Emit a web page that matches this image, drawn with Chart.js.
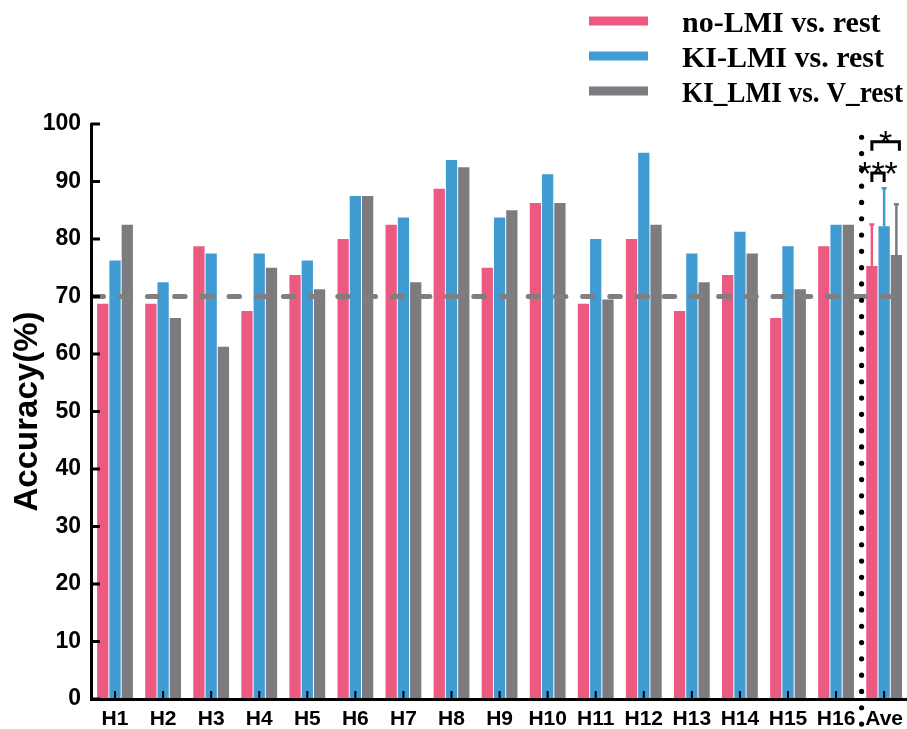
<!DOCTYPE html>
<html>
<head>
<meta charset="utf-8">
<script src="https://cdn.jsdelivr.net/npm/chart.js@4.4.1/dist/chart.umd.min.js"></script>
<style>
  html, body { margin: 0; padding: 0; background: #fff; overflow: hidden; }
  canvas { display: block; }
</style>
</head>
<body>
<canvas id="acc" width="911" height="729" style="width:911px;height:729px"></canvas>
<script>
// Per-subject accuracy (%) for the three classification settings, plus the group average.
const categories = ['H1', 'H2', 'H3', 'H4', 'H5', 'H6', 'H7', 'H8', 'H9', 'H10',
                    'H11', 'H12', 'H13', 'H14', 'H15', 'H16', 'Ave'];
const seriesNames = ['no-LMI vs. rest', 'KI-LMI vs. rest', 'KI_LMI vs. V_rest'];

const noLmiRest = [68.75, 68.75, 78.75, 67.5, 73.75, 80, 82.5, 88.75, 75, 86.25,
                   68.75, 80, 67.5, 73.75, 66.25, 78.75, 75.3];
const kiLmiRest = [76.25, 72.5, 77.5, 77.5, 76.25, 87.5, 83.75, 93.75, 83.75, 91.25,
                   80, 95, 77.5, 81.25, 78.75, 82.5, 82.2];
const kiLmiVRest = [82.5, 66.25, 61.25, 75, 71.25, 87.5, 72.5, 92.5, 85, 86.25,
                    69.5, 82.5, 72.5, 77.5, 71.25, 82.5, 77.2];

// Standard deviation shown on the average bars (one per series).
const aveSpread = [7.4, 6.8, 9.0];

// Reference accuracy level drawn as a dashed line.
const thresholdLevel = 70;

// Y-axis ticks.
const yTicks = [0, 10, 20, 30, 40, 50, 60, 70, 80, 90, 100];

// Significance brackets between series on the average group.
const significance = [
  { from: 0, to: 1, level: 91.5, label: '***' },
  { from: 0, to: 2, level: 96.9, label: '*' }
];

const COLORS = ['#EC5A82', '#419BD3', '#7C7C80'];
const seriesData = [noLmiRest, kiLmiRest, kiLmiVRest];

const decorations = {
  id: 'decorations',
  afterDatasetsDraw(chart) {
    const { ctx, chartArea: a, scales: { y } } = chart;
    const last = categories.length - 1;

    // upper error whiskers on the average bars
    chart.data.datasets.forEach((ds, i) => {
      const bar = chart.getDatasetMeta(i).data[last];
      const top = y.getPixelForValue(ds.data[last] + aveSpread[i]);
      ctx.save();
      ctx.strokeStyle = ds.backgroundColor;
      ctx.lineWidth = 2.5;
      ctx.beginPath();
      ctx.moveTo(bar.x, bar.y);
      ctx.lineTo(bar.x, top);
      ctx.moveTo(bar.x - 2.5, top + 1);
      ctx.lineTo(bar.x + 2.5, top + 1);
      ctx.stroke();
      ctx.restore();
    });

    // dashed reference line
    const ly = y.getPixelForValue(thresholdLevel);
    ctx.save();
    ctx.strokeStyle = '#7F7F82';
    ctx.lineWidth = 5;
    ctx.lineCap = 'round';
    ctx.setLineDash([10.5, 16.7]);
    ctx.beginPath();
    ctx.moveTo(a.left + 2, ly);
    ctx.lineTo(a.right, ly);
    ctx.stroke();
    ctx.restore();
  },
  afterDraw(chart) {
    const { ctx, chartArea: a, scales: { x, y } } = chart;
    const last = categories.length - 1;
    ctx.save();
    ctx.strokeStyle = '#000';
    ctx.fillStyle = '#000';

    // inward ticks on the y axis
    ctx.lineWidth = 3;
    yTicks.forEach(v => {
      const py = y.getPixelForValue(v);
      ctx.beginPath();
      ctx.moveTo(a.left, py);
      ctx.lineTo(a.left + 9, py);
      ctx.stroke();
    });

    // inward ticks on the x axis
    ctx.lineWidth = 2;
    categories.forEach((c, i) => {
      const px = x.getPixelForValue(i);
      ctx.beginPath();
      ctx.moveTo(px, a.bottom);
      ctx.lineTo(px, a.bottom - 8);
      ctx.stroke();
    });

    // dotted separator before the average group
    const sx = (x.getPixelForValue(last - 1) + x.getPixelForValue(last)) / 2 + 1.5;
    for (let py = y.getPixelForValue(97.7); py < a.bottom + 26; py += 16.3) {
      ctx.beginPath();
      ctx.arc(sx, py, 2.6, 0, Math.PI * 2);
      ctx.fill();
    }

    // significance brackets
    ctx.lineWidth = 3;
    ctx.lineJoin = 'miter';
    ctx.textAlign = 'center';
    ctx.textBaseline = 'alphabetic';
    ctx.font = '34px "Liberation Sans", Arial, sans-serif';
    significance.forEach(s => {
      const x1 = chart.getDatasetMeta(s.from).data[last].x;
      const x2 = chart.getDatasetMeta(s.to).data[last].x + (s.to === 2 ? 3 : 0);
      const by = y.getPixelForValue(s.level);
      ctx.beginPath();
      ctx.moveTo(x1, by + 9);
      ctx.lineTo(x1, by);
      ctx.lineTo(x2, by);
      ctx.lineTo(x2, by + 9);
      ctx.stroke();
      ctx.fillText(s.label, (x1 + x2) / 2, by + 12);
    });

    // legend
    ctx.textAlign = 'left';
    ctx.textBaseline = 'middle';
    ctx.font = 'bold 30px "Liberation Serif", "Times New Roman", serif';
    chart.data.datasets.forEach((ds, i) => {
      const cy = 21 + i * 35;
      ctx.fillStyle = ds.backgroundColor;
      ctx.fillRect(589, cy - 4.5, 59, 9);
      ctx.fillStyle = '#000';
      ctx.fillText(ds.label, 682, cy + 3, 221);
    });
    ctx.restore();
  }
};

const tickFont = { family: '"Liberation Sans", Arial, sans-serif', weight: 'bold' };

new Chart(document.getElementById('acc'), {
  type: 'bar',
  data: {
    labels: categories,
    datasets: seriesData.map((d, i) => ({
      label: seriesNames[i],
      data: d,
      backgroundColor: COLORS[i],
      borderWidth: 0
    }))
  },
  options: {
    responsive: false,
    animation: false,
    devicePixelRatio: 1,
    layout: { padding: { top: 124, right: 0, bottom: 0, left: 0 } },
    datasets: { bar: { categoryPercentage: 0.765, barPercentage: 0.92 } },
    plugins: { legend: { display: false }, tooltip: { enabled: false } },
    scales: {
      x: {
        grid: { display: false, drawTicks: false },
        border: { display: true, color: '#000', width: 3, z: 1 },
        ticks: {
          autoSkip: false, maxRotation: 0, minRotation: 0, padding: 8,
          color: '#000', font: { ...tickFont, size: 21 }
        },
        afterFit(s) { s.height = 30; }
      },
      y: {
        min: 0, max: 100,
        grid: { display: false, drawTicks: false },
        border: { display: true, color: '#000', width: 3, z: 1 },
        ticks: {
          stepSize: 10, padding: 10, color: '#000',
          font: { ...tickFont, size: 23 }
        },
        title: {
          display: true, text: 'Accuracy(%)', color: '#000',
          font: { ...tickFont, size: 33 },
          padding: { top: 8, bottom: 0 }
        },
        afterFit(s) { s.width = 91; }
      }
    }
  },
  plugins: [decorations]
});
</script>
</body>
</html>
